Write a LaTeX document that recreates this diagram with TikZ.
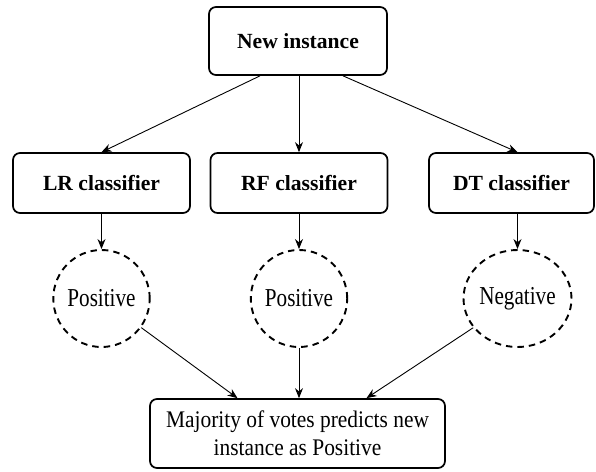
\documentclass[tikz,border=0pt]{standalone}
\usepackage{fontspec}
\setmainfont{Liberation Serif}
\newfontfamily\condA[FakeStretch=0.82]{Liberation Serif}
\newfontfamily\condB[FakeStretch=0.9]{Liberation Serif}
\usetikzlibrary{arrows.meta,shapes.geometric}
\begin{document}
\begin{tikzpicture}[x=1pt,y=-1pt,
  box/.style={draw,line width=1.7pt,rounded corners=7pt,minimum width=177pt,minimum height=60pt,inner sep=0pt,align=center,font=\fontsize{21.6}{27}\selectfont\bfseries},
  vote/.style={draw,ellipse,dashed,dash pattern=on 6.5pt off 5pt,line width=1.9pt,minimum width=89pt,minimum height=97pt,inner sep=0pt,font=\condA\fontsize{25.8}{27}\selectfont},
  arr/.style={-{Stealth[length=10pt,width=8pt]},line width=0.9pt}]
\useasboundingbox (0,0) rectangle (596,471);
\node[box,minimum width=178pt,minimum height=68pt] (new) at (298,41) {New instance};
\node[box] (lr) at (101.5,183) {\raisebox{-2pt}{LR classifier}};
\node[box] (rf) at (299,183) {\raisebox{-2pt}{RF classifier}};
\node[box,minimum width=165pt] (dt) at (511.5,183) {\raisebox{-2pt}{DT classifier}};
\node[vote] (c1) at (101.5,298.5) {Positive};
\node[vote] (c2) at (299,298.5) {Positive};
\node[vote] (c3) at (517.5,298.5) {Negative};
\node[box,font=\condB\fontsize{23.8}{27.6}\selectfont,minimum width=295pt,minimum height=69pt] (res) at (297.5,433.5) {Majority of votes predicts new\\instance as Positive};
\draw[arr] ([xshift=-38pt]new.south) -- (lr.north);
\draw[arr] (new.south -| rf.north) -- (rf.north);
\draw[arr] ([xshift=45pt]new.south) -- (c3 |- dt.north);
\draw[arr] (lr.south) -- (c1.north);
\draw[arr] (rf.south) -- (c2.north);
\draw[arr] (c3 |- dt.south) -- (c3.north);
\draw[arr] (c1) -- ([xshift=-60pt]res.north);
\draw[arr] (c2.south) -- (c2.south |- res.north);
\draw[arr] (c3) -- ([xshift=69pt]res.north);
\end{tikzpicture}
\end{document}
